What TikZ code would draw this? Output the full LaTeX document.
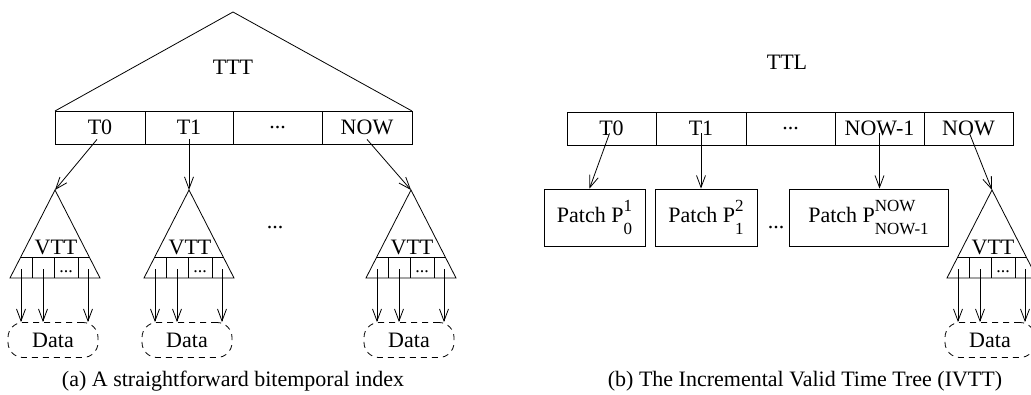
\documentclass[tikz,border=0pt]{standalone}
\usepackage{fontspec}
\setmainfont{Liberation Serif}
\usetikzlibrary{arrows.meta}

% P with a superscript stacked over a subscript
\newcommand{\patchP}[2]{P\makebox[0pt][l]{\raisebox{11pt}{\fontsize{17}{17}\selectfont #1}}\raisebox{-12pt}{\fontsize{17}{17}\selectfont #2}}

% a valid-time subtree: name, apex x
\newcommand{\vttree}[2]{%
  \begin{scope}[shift={(#2,190)}]
    \coordinate (#1) at (0,0);
    \draw (0,0) -- (-45,88) -- (45,88) -- cycle;
    \draw (-34,67) -- (34,67);
    \foreach \x in {-23,-1,23} \draw (\x,67) -- (\x,88);
    \node[tight,anchor=base] (#1-lbl) at (1,64) {VTT};
    \node[tight,anchor=base,font=\fontsize{18}{18}\selectfont] (#1-dots) at (11,82) {...};
    \node[datab] (#1-data) at (-2,150) {Data};
    \foreach \k/\x in {a/-34,b/-12,c/33} {
      \coordinate (#1-\k) at (\x,79);
      \draw[arr] (#1-\k) -- (#1-\k |- #1-data.north);
    }
  \end{scope}}

\begin{document}
\begin{tikzpicture}[x=1pt,y=-1pt,line width=0.8pt,
  font=\fontsize{22}{25}\selectfont,
  tight/.style={inner sep=0pt},
  arr/.style={-{Straight Barb[length=12pt,width=9pt,line width=0.8pt]}},
  cell/.style={draw,minimum height=33pt,inner sep=0pt},
  patchbox/.style={draw,minimum height=57pt,inner sep=0pt},
  datab/.style={draw,dashed,dash pattern=on 6pt off 5pt,rounded corners=15pt,
                minimum width=90pt,minimum height=35pt,inner sep=0pt}]
\useasboundingbox (0,0) rectangle (1031,394);
\clip (0,0) rectangle (1031,394);

% ---- (a) transaction-time tree over valid-time trees ----
\draw (55,111) -- (233,12) -- (412,111);
\node (ttt) at (233,67) {TTT};
\node[cell,minimum width=90pt] (a0) at (100,127.5) {T0};
\node[cell,minimum width=88pt] (a1) at (189,127.5) {T1};
\node[cell,minimum width=89pt] (a2) at (277.5,127.5) {...};
\node[cell,minimum width=90pt] (a3) at (367,127.5) {NOW};

\vttree{va}{55}
\vttree{vb}{189}
\vttree{vc}{411}
\node (amid) at (275,228) {...};

\draw[arr] ([xshift=-3pt,yshift=5pt]a0.south) -- (va);
\draw[arr] ([yshift=5pt]a1.south) -- (vb);
\draw[arr] ([yshift=5pt]a3.south) -- (vc);

\node (capa) at (233,381) {(a) A straightforward bitemporal index};

% ---- (b) incremental valid time tree ----
\node (ttl) at (787,62) {TTL};
\node[cell,minimum width=89pt] (b0) at (611.5,128.5) {T0};
\node[cell,minimum width=90pt] (b1) at (701,128.5) {T1};
\node[cell,minimum width=89pt] (b2) at (790.5,128.5) {...};
\node[cell,minimum width=89pt] (b3) at (879.5,128.5) {NOW-1};
\node[cell,minimum width=89pt] (b4) at (968.5,128.5) {NOW};

\node[patchbox,minimum width=101pt] (p1) at (594.5,217.5) {Patch \patchP{1}{0}};
\node[patchbox,minimum width=102pt] (p2) at (706,217.5) {Patch \patchP{2}{1}};
\node[patchbox,minimum width=159pt] (p3) at (868.5,217.5) {Patch \patchP{NOW}{NOW-1}};
\node (bmid) at (776,228) {...};

\vttree{vd}{992}

\draw[arr] ([xshift=-2pt,yshift=12pt]b0.south) -- ([xshift=-5pt]p1.north);
\draw[arr] ([yshift=12pt]b1.south) -- (b1.south |- p2.north);
\draw[arr] ([yshift=12pt]b3.south) -- (b3.south |- p3.north);
\draw[arr] ([xshift=1pt,yshift=12pt]b4.south) -- (vd);

\node (capb) at (805,381) {(b) The Incremental Valid Time Tree (IVTT)};
\end{tikzpicture}
\end{document}
